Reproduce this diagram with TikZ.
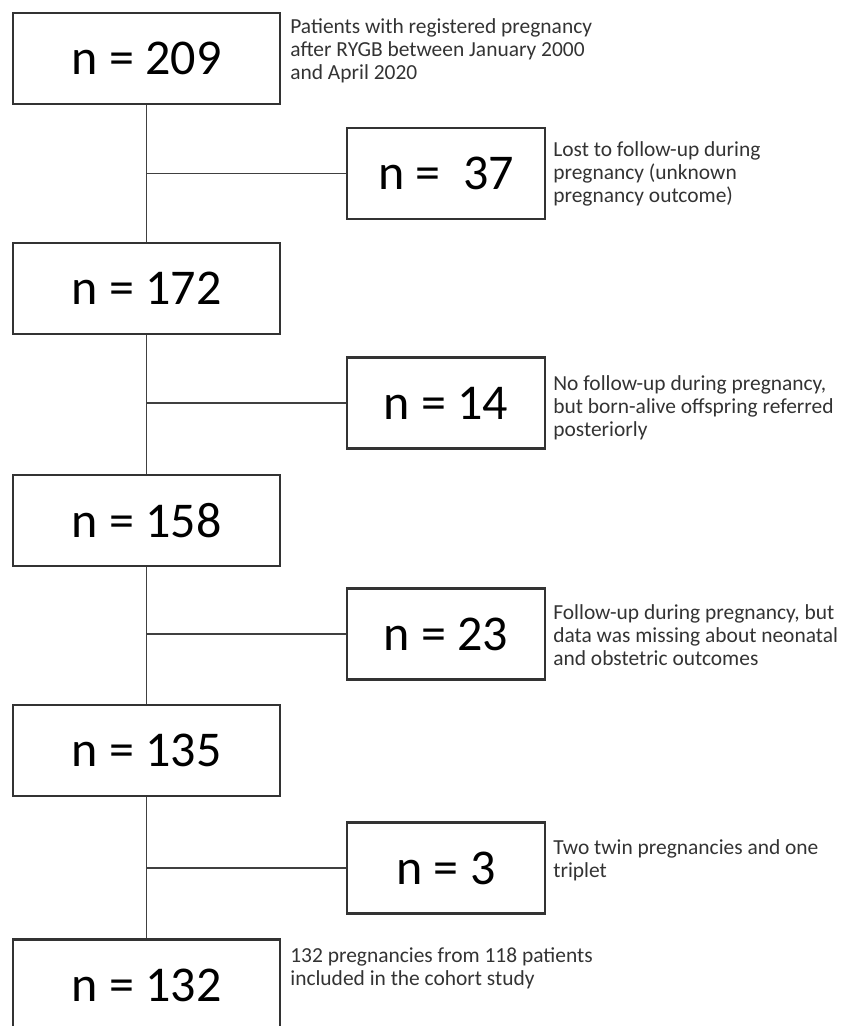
\documentclass[tikz,border=0pt]{standalone}
\usepackage{fontspec}
\setmainfont{Carlito}
\usepackage{tikz}
\tikzset{
    countbox/.style={draw=black!80, line width=1.2pt, minimum width=5.34cm, minimum height=1.82cm, inner sep=0pt, font=\fontsize{28.5}{32}\selectfont},
    exclbox/.style={countbox, minimum width=3.96cm},
    note/.style={anchor=north west, inner sep=0pt, align=left, text=black!80, font=\fontsize{12.2}{13.1}\selectfont},
    link/.style={draw=black!75, line width=0.9pt}
}

\begin{document}
\begin{tikzpicture}[x=0.02cm, y=-0.02cm]
    \clip (0,0) rectangle (857,1026);

    % main column
    \node[countbox] (n209) at (146.5,58.5) {n = 209};
    \node[countbox] (n172) at (146.5,288.5) {n = 172};
    \node[countbox] (n158) at (146.5,520.5) {n = 158};
    \node[countbox] (n135) at (146.5,750.5) {n = 135};
    \node[countbox] (n132) at (146.5,985) {n = 132};

    % excluded
    \node[exclbox] (n37) at (446,173.5) {n =\ \ 37};
    \node[exclbox] (n14) at (446,403) {n = 14};
    \node[exclbox] (n23) at (446,634) {n = 23};
    \node[exclbox] (n3) at (446,868) {n = 3};

    \draw[link] (n209) -- (n172);
    \draw[link] (n172) -- (n158);
    \draw[link] (n158) -- (n135);
    \draw[link] (n135) -- (n132);

    \draw[link] (n37.west) -- (n37.west -| n209.south);
    \draw[link] (n14.west) -- (n14.west -| n172.south);
    \draw[link] (n23.west) -- (n23.west -| n158.south);
    \draw[link] (n3.west) -- (n3.west -| n135.south);

    % notes
    \node[note] (t209) at (290,18) {Patients with registered pregnancy\\after RYGB between January 2000\\and April 2020};
    \node[note] (t37) at (553,141) {Lost to follow-up during\\pregnancy (unknown\\pregnancy outcome)};
    \node[note] (t14) at (553,375) {No follow-up during pregnancy,\\but born-alive offspring referred\\posteriorly};
    \node[note] (t23) at (553,604) {Follow-up during pregnancy, but\\data was missing about neonatal\\and obstetric outcomes};
    \node[note] (t3) at (553,839) {Two twin pregnancies and one\\triplet};
    \node[note] (t132) at (290,947) {132 pregnancies from 118 patients\\included in the cohort study};
\end{tikzpicture}
\end{document}
